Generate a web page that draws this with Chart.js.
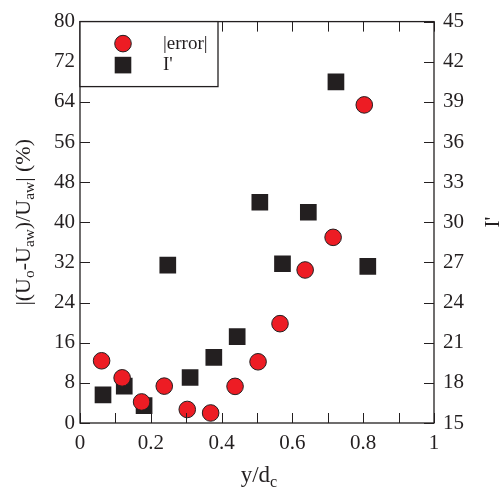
<!DOCTYPE html>
<html>
<head>
<meta charset="utf-8">
<script src="https://cdn.jsdelivr.net/npm/chart.js@4.4.1/dist/chart.umd.min.js"></script>
<style>
  html, body { margin: 0; padding: 0; background: #fff; }
  #wrap { width: 501px; height: 490px; }
</style>
</head>
<body>
<div id="wrap"><canvas id="myChart" width="501" height="490"></canvas></div>
<script>
// datos
const errX = [0.061, 0.119, 0.174, 0.238, 0.303, 0.369, 0.438, 0.503, 0.565, 0.636, 0.715, 0.803];
const errY = [12.4, 9.0, 4.2, 7.35, 2.7, 2.0, 7.3, 12.2, 19.8, 30.5, 37.0, 63.4];
const iX = [0.065, 0.125, 0.181, 0.248, 0.311, 0.378, 0.444, 0.508, 0.572, 0.645, 0.723, 0.813];
const iY = [17.1, 17.75, 16.3, 26.8, 18.4, 19.9, 21.45, 31.5, 26.9, 30.75, 40.5, 26.7];

// ticks
const xTicks = [0, 0.1, 0.2, 0.3, 0.4, 0.5, 0.6, 0.7, 0.8, 0.9, 1];
const xLabels = ['0', '', '0.2', '', '0.4', '', '0.6', '', '0.8', '', '1'];
const yLeftTicks = [0, 8, 16, 24, 32, 40, 48, 56, 64, 72, 80];
const yRightTicks = [15, 18, 21, 24, 27, 30, 33, 36, 39, 42, 45];

const ink = '#231f20';
const rojo = '#ed1c24';
const fuente = '"Liberation Serif", "Times New Roman", serif';

const toPoints = (xs, ys) => xs.map((x, i) => ({ x: x, y: ys[i] }));

// texto con subindices: partes [texto, esSub]
function textoSub(ctx, partes, x, y, size) {
  let total = 0;
  partes.forEach(p => {
    ctx.font = (p[1] ? size * 0.7 : size) + 'px ' + fuente;
    total += ctx.measureText(p[0]).width;
  });
  let cx = x - total / 2;
  partes.forEach(p => {
    ctx.font = (p[1] ? size * 0.7 : size) + 'px ' + fuente;
    ctx.fillText(p[0], cx, p[1] ? y + size * 0.28 : y);
    cx += ctx.measureText(p[0]).width;
  });
}

const marcoPlugin = {
  id: 'marco',
  afterDraw(chart) {
    const ctx = chart.ctx;
    const a = chart.chartArea;
    const sx = chart.scales.x, yl = chart.scales.yL, yr = chart.scales.yR;
    ctx.save();
    ctx.strokeStyle = ink;
    ctx.lineWidth = 1.3;
    ctx.strokeRect(a.left, a.top, a.right - a.left, a.bottom - a.top);
    // ticks hacia dentro
    const tl = 10;
    ctx.lineWidth = 1;
    ctx.beginPath();
    xTicks.forEach(v => {
      const px = Math.round(sx.getPixelForValue(v)) + 0.5;
      ctx.moveTo(px, a.bottom); ctx.lineTo(px, a.bottom - tl);
      ctx.moveTo(px, a.top); ctx.lineTo(px, a.top + tl);
    });
    yLeftTicks.forEach(v => {
      const py = Math.round(yl.getPixelForValue(v)) + 0.5;
      ctx.moveTo(a.left, py); ctx.lineTo(a.left + tl, py);
    });
    yRightTicks.forEach(v => {
      const py = Math.round(yr.getPixelForValue(v)) + 0.5;
      ctx.moveTo(a.right, py); ctx.lineTo(a.right - tl, py);
    });
    ctx.stroke();

    // leyenda
    const lx = a.left, ly = a.top, lw = 138, lh = 65;
    ctx.fillStyle = '#fff';
    ctx.fillRect(lx, ly, lw, lh);
    ctx.lineWidth = 1.3;
    ctx.strokeRect(lx, ly, lw, lh);
    ctx.fillStyle = rojo; ctx.strokeStyle = ink; ctx.lineWidth = 1;
    ctx.beginPath(); ctx.arc(lx + 43, ly + 22, 8.3, 0, Math.PI * 2); ctx.fill(); ctx.stroke();
    ctx.fillStyle = ink;
    ctx.fillRect(lx + 43 - 8.3, ly + 43.5 - 8.3, 16.6, 16.6);
    ctx.font = '19px ' + fuente;
    ctx.textBaseline = 'middle';
    ctx.textAlign = 'left';
    ctx.fillText('|error|', lx + 83, ly + 22);
    ctx.fillText("I'", lx + 83, ly + 43.5);

    // titulos de ejes
    textoSub(ctx, [['y/d', false], ['c', true]], 259, 476, 23);
    ctx.save();
    ctx.translate(24, (a.top + a.bottom) / 2);
    ctx.rotate(-Math.PI / 2);
    textoSub(ctx, [['|(U', false], ['o', true], ['-U', false], ['aw', true], [')/U', false], ['aw', true], ['| (%)', false]], 0, 0, 22);
    ctx.restore();
    ctx.save();
    ctx.translate(493, 222);
    ctx.rotate(-Math.PI / 2);
    textoSub(ctx, [["I'", false]], 0, 0, 21);
    ctx.restore();
    ctx.restore();
  }
};

const opcionesChart = {
  type: 'scatter',
  data: {
    datasets: [{
      label: '|error|',
      data: toPoints(errX, errY),
      yAxisID: 'yL',
      pointStyle: 'circle',
      pointRadius: 8.3,
      pointHoverRadius: 8.3,
      backgroundColor: rojo,
      borderColor: ink,
      borderWidth: 1
    }, {
      label: "I'",
      data: toPoints(iX, iY),
      yAxisID: 'yR',
      pointStyle: 'rect',
      pointRadius: 11.8,
      pointHoverRadius: 11.8,
      backgroundColor: ink,
      borderColor: ink,
      borderWidth: 0
    }]
  },
  options: {
    responsive: false,
    animation: false,
    events: [],
    layout: { padding: { top: 17, left: 0, right: 0, bottom: 0 } },
    plugins: { legend: { display: false }, tooltip: { enabled: false } },
    scales: {
      x: {
        type: 'linear', min: 0, max: 1,
        grid: { display: false, drawTicks: false },
        border: { display: false },
        afterBuildTicks: s => { s.ticks = xTicks.map(v => ({ value: v })); },
        afterFit: s => { s.height = 67; },
        ticks: {
          color: ink, padding: 8, maxRotation: 0, autoSkip: false,
          font: { family: fuente, size: 21 },
          callback: (v, i) => xLabels[i]
        }
      },
      yL: {
        type: 'linear', position: 'left', min: 0, max: 80,
        grid: { display: false, drawTicks: false },
        border: { display: false },
        afterBuildTicks: s => { s.ticks = yLeftTicks.map(v => ({ value: v })); },
        afterFit: s => { s.width = 80; },
        ticks: { color: ink, padding: 5, font: { family: fuente, size: 21 } }
      },
      yR: {
        type: 'linear', position: 'right', min: 15, max: 45,
        grid: { display: false, drawTicks: false },
        border: { display: false },
        afterBuildTicks: s => { s.ticks = yRightTicks.map(v => ({ value: v })); },
        afterFit: s => { s.width = 67; },
        ticks: { color: ink, padding: 9, font: { family: fuente, size: 21 } }
      }
    }
  },
  plugins: [marcoPlugin]
};

new Chart(document.getElementById('myChart'), opcionesChart);
</script>
</body>
</html>
